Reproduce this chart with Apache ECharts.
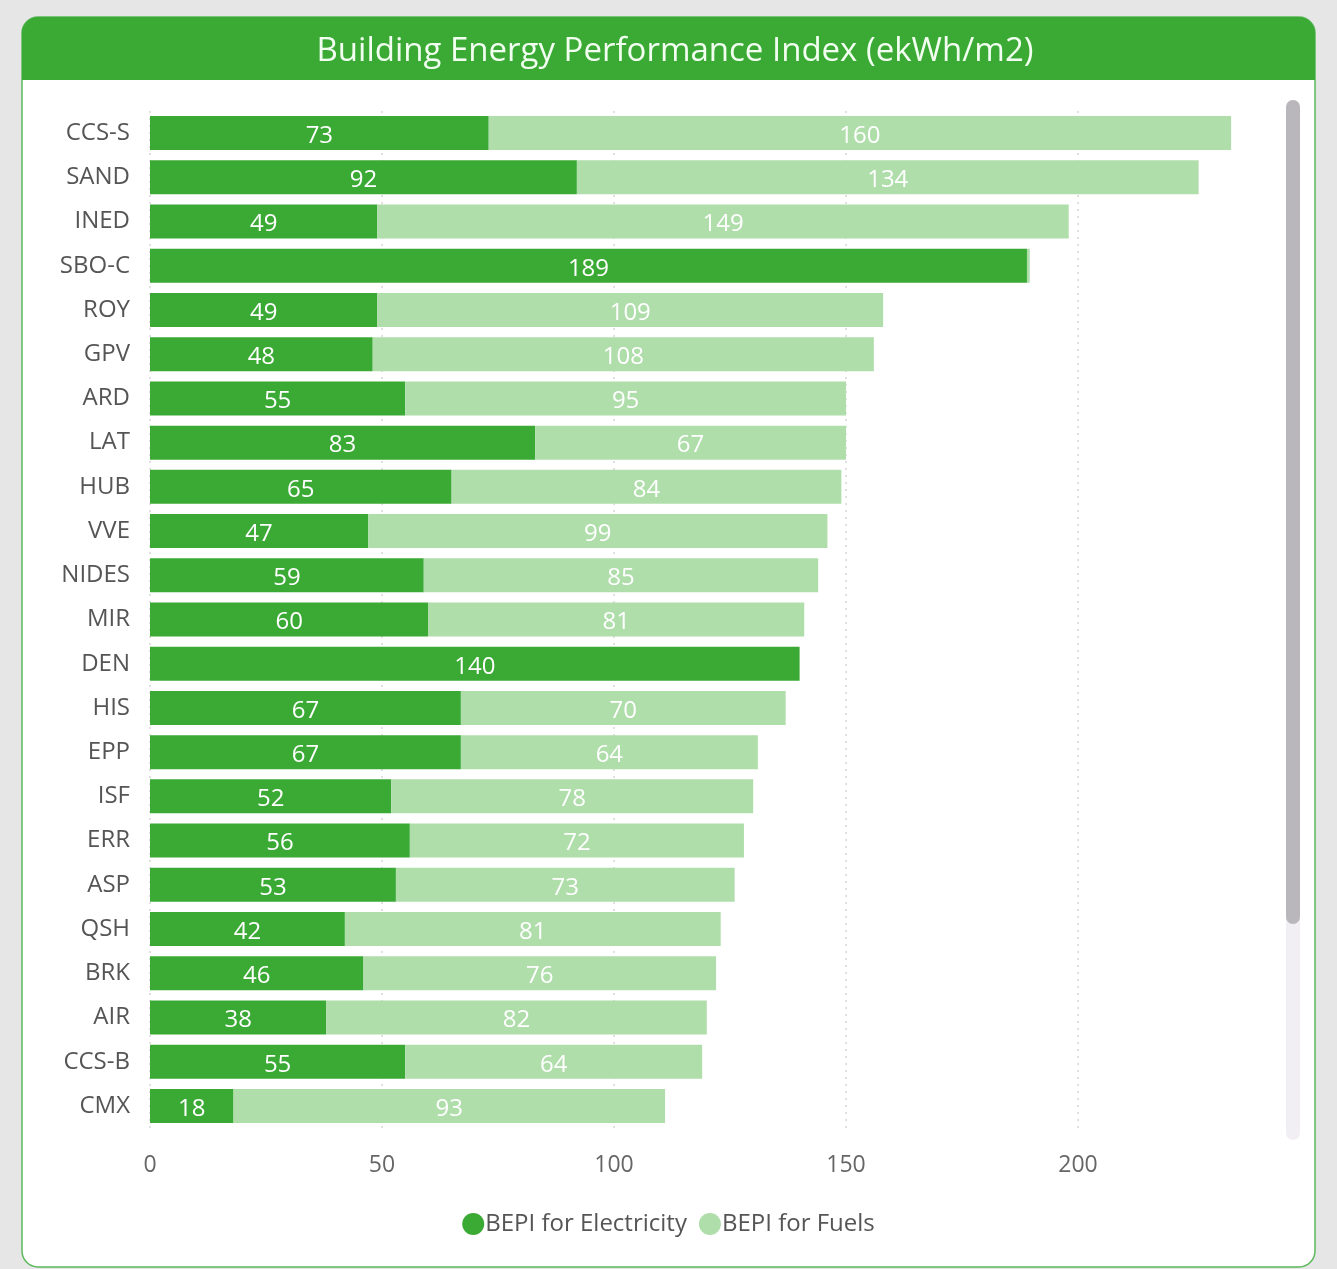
<!DOCTYPE html>
<html>
<head>
<meta charset="utf-8">
<script src="https://cdn.jsdelivr.net/npm/echarts@6/dist/echarts.min.js"></script>
<style>
  html, body { margin: 0; padding: 0; background: #e6e6e6; }
  #chart { width: 1337px; height: 1269px; }
</style>
</head>
<body>
<div id="chart"></div>
<script>
// Sites, ordered by total BEPI (largest first)
const categories = ['CCS-S', 'SAND', 'INED', 'SBO-C', 'ROY', 'GPV', 'ARD', 'LAT', 'HUB', 'VVE', 'NIDES', 'MIR', 'DEN', 'HIS', 'EPP', 'ISF', 'ERR', 'ASP', 'QSH', 'BRK', 'AIR', 'CCS-B', 'CMX'];
// BEPI for electricity (ekWh/m2)
const electricity = [73, 92, 49, 189, 49, 48, 55, 83, 65, 47, 59, 60, 140, 67, 67, 52, 56, 53, 42, 46, 38, 55, 18];
// BEPI for fuels (ekWh/m2)
const fuels = [160, 134, 149, 0.6, 109, 108, 95, 67, 84, 99, 85, 81, 0, 70, 64, 78, 72, 73, 81, 76, 82, 64, 93];
// Value axis ticks
const axisMax = 242;
const axisInterval = 50;

const DARK = '#3aaa35';
const LIGHT = '#afdeab';
const FONT = '"Open Sans", "Noto Sans", sans-serif';

const chart = echarts.init(document.getElementById('chart'), null, { renderer: 'canvas' });

// values too small to hold a label are left unlabelled
const labelFmt = p => (p.value >= 5 ? String(p.value) : '');

chart.setOption({
  backgroundColor: '#e6e6e6',
  animation: false,
  graphic: [
    // card
    { type: 'rect', z: -10, shape: { x: 22, y: 17, width: 1293, height: 1250, r: 16 },
      style: { fill: '#ffffff', stroke: '#5cb85c', lineWidth: 1.5 } },
    // title band
    { type: 'rect', z: -9, shape: { x: 22, y: 17, width: 1293, height: 63, r: [16, 16, 0, 0] },
      style: { fill: DARK } },
    // scrollbar track and thumb
    { type: 'rect', z: -8, shape: { x: 1286, y: 100, width: 14, height: 1040, r: 7 },
      style: { fill: '#f1eff3' } },
    { type: 'rect', z: -7, shape: { x: 1286, y: 100, width: 14, height: 824, r: 7 },
      style: { fill: '#b9b7bb' } }
  ],
  title: {
    text: 'Building Energy Performance Index (ekWh/m2)',
    left: 670, top: 30, textAlign: 'center',
    textStyle: { color: '#f2fff0', fontSize: 33, fontWeight: 'normal', fontFamily: FONT }
  },
  legend: {
    bottom: 28, left: 'center',
    icon: 'circle', itemWidth: 22, itemHeight: 22, itemGap: 12,
    textStyle: { color: '#555', fontSize: 24, fontFamily: FONT, padding: [0, 0, 0, -4] },
    data: ['BEPI for Electricity', 'BEPI for Fuels']
  },
  grid: { left: 150, top: 111, width: axisMax * 4.64, height: 1017, containLabel: false },
  xAxis: {
    type: 'value', min: 0, max: axisMax, interval: axisInterval,
    axisLine: { show: false }, axisTick: { show: false },
    axisLabel: { color: '#666', fontSize: 23, fontFamily: FONT, margin: 26, showMaxLabel: false },
    splitLine: { show: true, showMaxLine: false, lineStyle: { color: '#d8d8d8', type: [2, 5], width: 1.5 } }
  },
  yAxis: {
    type: 'category', data: categories, inverse: true,
    axisLine: { show: false }, axisTick: { show: false },
    axisLabel: { color: '#555', fontSize: 24, fontFamily: FONT, margin: 20 }
  },
  series: [
    {
      name: 'BEPI for Electricity', type: 'bar', stack: 'bepi', data: electricity,
      barWidth: 34, itemStyle: { color: DARK },
      label: { show: true, position: 'inside', color: '#ffffff', fontSize: 24, fontFamily: FONT, formatter: labelFmt, offset: [0, 3] }
    },
    {
      name: 'BEPI for Fuels', type: 'bar', stack: 'bepi', data: fuels,
      barWidth: 34, itemStyle: { color: LIGHT },
      label: { show: true, position: 'inside', color: '#ffffff', fontSize: 24, fontFamily: FONT, formatter: labelFmt, offset: [0, 3] }
    }
  ]
});
</script>
</body>
</html>
